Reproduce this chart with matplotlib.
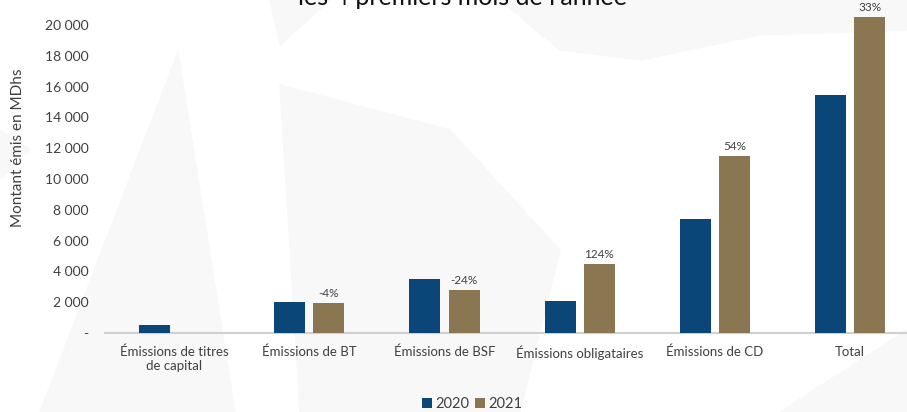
import matplotlib
matplotlib.use("Agg")
import matplotlib.pyplot as plt
import matplotlib.patches as patches
import numpy as np

# data (MDhs)
categories = ["Émissions de titres\nde capital", "Émissions de BT", "Émissions de BSF",
              "Émissions obligataires", "Émissions de CD", "Total"]
values_2020 = [500, 2030, 3530, 2100, 7400, 15450]
values_2021 = [0, 1950, 2780, 4480, 11480, 20520]
growth_labels = ["", "-4%", "-24%", "124%", "54%", "33%"]
yticks = list(range(0, 20001, 2000))

navy = "#0a4677"
brown = "#8a7650"
grey_txt = "#404040"

plt.rcParams['font.family'] = ['Lato', 'DejaVu Sans']

fig = plt.figure(figsize=(9.07, 4.12), dpi=100)
fig.patch.set_facecolor("white")

# faint watermark shapes in the background
W, H = 907, 412
def fpoly(pts):
    return patches.Polygon([(x / W, 1 - y / H) for x, y in pts], closed=True,
                           transform=fig.transFigure, color="#f8f8f8", zorder=0)
fig.patches.append(fpoly([(178, 52), (40, 412), (235, 412)]))
fig.patches.append(fpoly([(270, 0), (330, 0), (280, 45)]))
fig.patches.append(fpoly([(280, 85), (450, 130), (560, 250), (520, 412), (300, 412)]))
fig.patches.append(fpoly([(0, 130), (30, 150), (0, 180)]))
fig.patches.append(fpoly([(500, 0), (907, 0), (907, 30), (760, 35), (640, 60), (560, 50)]))
fig.patches.append(fpoly([(780, 412), (907, 330), (907, 412)]))

ax = fig.add_axes([105 / W, 1 - 333 / H, (W - 105) / W, (333 - 9.6) / H])
ax.set_facecolor("none")
ax.set_zorder(2)

x = np.arange(len(categories))
w = 0.23
off = 0.145
ax.bar(x - off, values_2020, width=w, color=navy, label="2020", zorder=3)
ax.bar(x + off, values_2021, width=w, color=brown, label="2021", zorder=3)

for xi, v, lab in zip(x, values_2021, growth_labels):
    if lab:
        ax.text(xi + off, v + 250, lab, ha="center", va="bottom",
                fontsize=8.5, color=grey_txt)

ax.set_xlim(-0.51, 5.42)
ax.set_ylim(0, 21000)
ax.set_yticks(yticks)
ax.set_yticklabels(["-"] + [f"{t:,}".replace(",", " ") for t in yticks[1:]],
                   fontsize=10, color=grey_txt)
ax.set_xticks(x)
ax.set_xticklabels(categories, fontsize=9.5, color=grey_txt)
ax.tick_params(axis="both", length=0)
ax.tick_params(axis="y", pad=12)
ax.tick_params(axis="x", pad=9)

for s in ["top", "right", "left"]:
    ax.spines[s].set_visible(False)
ax.spines["bottom"].set_color("#d0d0d0")
ax.spines["bottom"].set_linewidth(1.5)

fig.text(18 / W, 1 - 148 / H, "Montant émis en MDhs", rotation=90,
         ha="center", va="center", fontsize=11, color=grey_txt)

fig.text(462 / W, 1 - 5 / H, "les 4 premiers mois de l'année", ha="center",
         va="baseline", fontsize=18, color="#111111")

leg = fig.legend(loc="center", bbox_to_anchor=(472 / W, 1 - 404 / H), ncol=2,
                 frameon=False, fontsize=10.5, handlelength=0.7, handleheight=0.7,
                 handletextpad=0.2, columnspacing=0.4, borderaxespad=0)
for t in leg.get_texts():
    t.set_color(grey_txt)

fig.savefig("out.png", dpi=100)
